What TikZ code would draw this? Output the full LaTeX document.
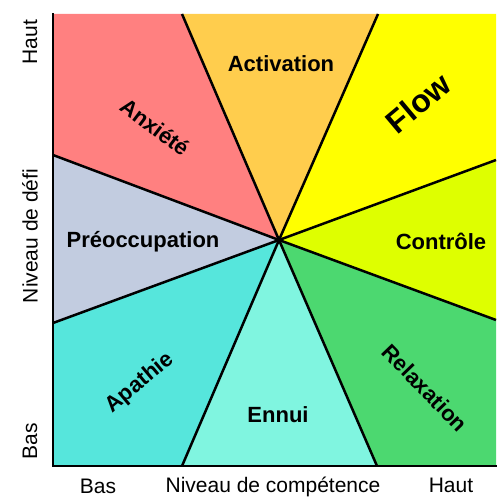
\documentclass[tikz,border=0pt]{standalone}
\usepackage{fontspec}
\setmainfont{Liberation Sans}
\usepackage{xcolor}
\usetikzlibrary{positioning}
\definecolor{anxietered}{RGB}{255, 128, 128}
\definecolor{activorange}{RGB}{255, 205, 77}
\definecolor{flowyellow}{RGB}{255, 255, 0}
\definecolor{controlelime}{RGB}{222, 255, 0}
\definecolor{relaxgreen}{RGB}{76, 216, 112}
\definecolor{ennuiaqua}{RGB}{128, 245, 224}
\definecolor{apathieteal}{RGB}{86, 230, 220}
\definecolor{preocgrey}{RGB}{194, 204, 224}

\begin{document}
\begin{tikzpicture}[
  x=1pt, y=-1pt,
  zonelabel/.style={
    font=\fontsize{22}{26}\selectfont\bfseries,
    inner sep=0pt,
  },
  flowlabel/.style={
    font=\fontsize{32}{38}\selectfont\bfseries,
    inner sep=0pt,
  },
  axislabel/.style={
    font=\fontsize{21}{25}\selectfont,
    inner sep=0pt,
  },
  ray/.style={
    draw=black,
    line width=2.5pt,
  },
  axisline/.style={
    draw=black,
    line width=2pt,
    line cap=rect,
  }
]
  \useasboundingbox (0,0) rectangle (496,497);

  % Points on the frame
  \coordinate (c) at (279, 240);
  \coordinate (tl) at (53, 14);
  \coordinate (tr) at (496, 14);
  \coordinate (br) at (496, 466);
  \coordinate (bl) at (53, 466);
  \coordinate (top-a) at (182, 14);
  \coordinate (top-b) at (378, 14);
  \coordinate (right-a) at (496, 160);
  \coordinate (right-b) at (496, 320);
  \coordinate (bot-b) at (377, 466);
  \coordinate (bot-a) at (182, 466);
  \coordinate (left-b) at (53, 323);
  \coordinate (left-a) at (53, 155);

  % Zones
  \fill[anxietered] (tl) -- (top-a) -- (c) -- (left-a) -- cycle;
  \fill[activorange] (top-a) -- (top-b) -- (c) -- cycle;
  \fill[flowyellow] (top-b) -- (tr) -- (right-a) -- (c) -- cycle;
  \fill[controlelime] (right-a) -- (right-b) -- (c) -- cycle;
  \fill[relaxgreen] (right-b) -- (br) -- (bot-b) -- (c) -- cycle;
  \fill[ennuiaqua] (bot-b) -- (bot-a) -- (c) -- cycle;
  \fill[apathieteal] (bot-a) -- (bl) -- (left-b) -- (c) -- cycle;
  \fill[preocgrey] (left-b) -- (left-a) -- (c) -- cycle;

  % Rays
  \draw[ray] (c) -- (top-a);
  \draw[ray] (c) -- (top-b);
  \draw[ray] (c) -- (right-a);
  \draw[ray] (c) -- (right-b);
  \draw[ray] (c) -- (bot-b);
  \draw[ray] (c) -- (bot-a);
  \draw[ray] (c) -- (left-b);
  \draw[ray] (c) -- (left-a);

  % Axes
  \draw[axisline] (tl) -- (bl) -- (br);

  % Zone labels
  \node[zonelabel, rotate=-37] (anxiete) at (155, 127) {Anxiété};
  \node[zonelabel] (activation) at (281, 64) {Activation};
  \node[flowlabel, rotate=40] (flow) at (418, 103) {Flow};
  \node[zonelabel] (controle) at (441, 241) {Contrôle};
  \node[zonelabel, rotate=-46] (relaxation) at (425, 388) {Relaxation};
  \node[zonelabel] (ennui) at (278, 415) {Ennui};
  \node[zonelabel, rotate=40] (apathie) at (140, 383) {Apathie};
  \node[zonelabel] (preoccupation) at (143, 242) {Préoccupation};

  % Axis labels
  \node[axislabel, rotate=90] (defi-haut) at (30, 42) {Haut};
  \node[axislabel, rotate=90] (defi) at (30, 236) {Niveau de défi};
  \node[axislabel, rotate=90] (defi-bas) at (30, 441) {Bas};
  \node[axislabel] (comp-bas) at (98, 486) {Bas};
  \node[axislabel] (comp) at (273, 487) {Niveau de compétence};
  \node[axislabel] (comp-haut) at (451, 485) {Haut};

\end{tikzpicture}
\end{document}
